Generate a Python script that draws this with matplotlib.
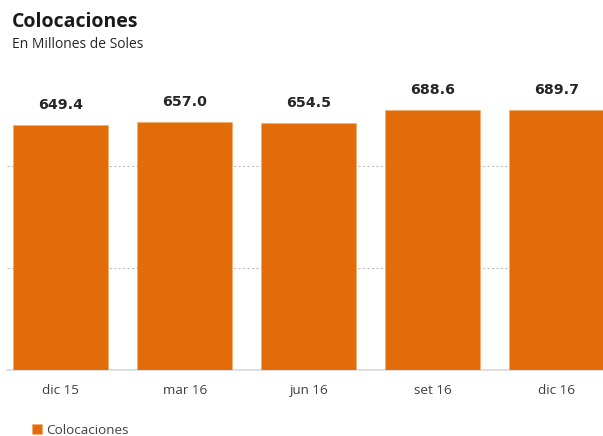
import matplotlib
matplotlib.use("Agg")
import matplotlib.pyplot as plt

# Data
periods = ["dic 15", "mar 16", "jun 16", "set 16", "dic 16"]
colocaciones = [649.4, 657.0, 654.5, 688.6, 689.7]
grid_levels = [270, 540]

title = "Colocaciones"
subtitle = "En Millones de Soles"
series_name = "Colocaciones"

bar_color = "#E36C0A"
text_dark = "#262626"
tick_color = "#404040"

W, H = 603, 436
fig = plt.figure(figsize=(W / 100, H / 100), dpi=100)

# Axes area in pixel units converted to figure fractions
ax_left, ax_right = 7, 603
ax_top, ax_bottom = 60, 370
ax = fig.add_axes([ax_left / W, (H - ax_bottom) / H,
                   (ax_right - ax_left) / W, (ax_bottom - ax_top) / H])

x = list(range(len(periods)))
bars = ax.bar(x, colocaciones, width=0.766, color=bar_color,
              edgecolor="#F3A96B", linewidth=0.4, label=series_name, zorder=3)

ax.set_xlim(-0.434, 4.373)
ax.set_ylim(0, 821)

# Value labels above each bar
for xi, v in zip(x, colocaciones):
    ax.annotate(f"{v:.1f}", xy=(xi, v), xytext=(0, 11.5),
                textcoords="offset points", ha="center", va="baseline",
                fontsize=10.2, fontweight="bold", color=text_dark,
                family="DejaVu Sans", zorder=4)

# Gridlines
ax.set_yticks(grid_levels)
ax.yaxis.grid(True, color="#bfbfbf", linestyle=(0, (2, 2)), linewidth=0.8)
ax.set_axisbelow(True)
ax.tick_params(axis="y", length=0, labelleft=False)

ax.set_xticks(x)
ax.set_xticklabels(periods, fontsize=9.7, color=tick_color, family="Open Sans")
ax.tick_params(axis="x", length=0, pad=10)

for side in ("top", "right", "left"):
    ax.spines[side].set_visible(False)
ax.spines["bottom"].set_color("#d9d9d9")
ax.spines["bottom"].set_linewidth(1.2)

# Titles
fig.text(12 / W, 1 - 27 / H, title, fontsize=14, fontweight="bold",
         family="Open Sans", color="#1a1a1a", va="baseline", ha="left")
fig.text(12 / W, 1 - 47.7 / H, subtitle, fontsize=10,
         family="Open Sans", color="#262626", va="baseline", ha="left")

# Legend
fig.legend(handles=[bars], labels=[series_name], loc="center left",
           bbox_to_anchor=(32 / W, 1 - 430 / H), frameon=False,
           handlelength=0.75, handleheight=0.75, handletextpad=0.3,
           borderpad=0, borderaxespad=0,
           prop={"family": "Open Sans", "size": 9.7}, labelcolor=tick_color)

fig.savefig("out.png", dpi=100)
